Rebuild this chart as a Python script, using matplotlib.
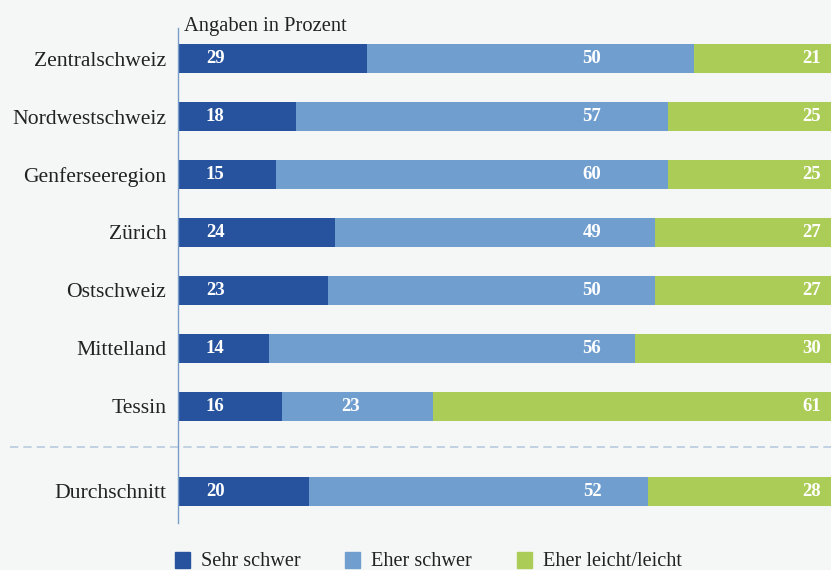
import matplotlib.pyplot as plt
from matplotlib.patches import Rectangle

# Daten
regionen = ['Zentralschweiz', 'Nordwestschweiz', 'Genferseeregion', 'Zürich',
            'Ostschweiz', 'Mittelland', 'Tessin', 'Durchschnitt']
sehr_schwer = [29, 18, 15, 24, 23, 14, 16, 20]
eher_schwer = [50, 57, 60, 49, 50, 56, 23, 52]
eher_leicht = [21, 25, 25, 27, 27, 30, 61, 28]
serien = ['Sehr schwer', 'Eher schwer', 'Eher leicht/leicht']

farben = ['#27539e', '#6f9ecf', '#abcd58']
hintergrund = '#f5f7f6'

plt.rcParams['font.family'] = ['Liberation Serif', 'DejaVu Serif']

fig = plt.figure(figsize=(8.31, 5.70), dpi=100, facecolor=hintergrund)
ax = fig.add_axes([178 / 831, 1 - 523 / 570, 653 / 831, (523 - 28) / 570])
ax.set_facecolor(hintergrund)

# y-Positionen: 7 Regionen, dann Abstand, dann Durchschnitt
ypos = list(range(7)) + [7.46]

links = [0] * len(regionen)
for werte, farbe in zip([sehr_schwer, eher_schwer, eher_leicht], farben):
    ax.barh(ypos, werte, left=links, height=0.5, color=farbe, linewidth=0)
    links = [a + b for a, b in zip(links, werte)]

# Beschriftungen in den Balken
stil = dict(color='white', fontsize=13.5, fontweight='bold', va='center', ha='center')
for y, a, b, c in zip(ypos, sehr_schwer, eher_schwer, eher_leicht):
    ax.text(5.7, y, str(a), **stil)
    xb = 63.4 if a + b > 50 else a + 10.5
    ax.text(xb, y, str(b), **stil)
    ax.text(97.0, y, str(c), **stil)

ax.set_xlim(0, 100)
ax.set_ylim(8.009, -0.526)
ax.set_yticks(ypos)
ax.set_yticklabels(regionen, fontsize=15.6, color='#222222')
ax.tick_params(axis='y', length=0, pad=8.5)
ax.set_xticks([])
for s in ['top', 'right', 'bottom']:
    ax.spines[s].set_visible(False)
ax.spines['left'].set_color('#7a9cc8')
ax.spines['left'].set_linewidth(1)

# gestrichelte Trennlinie
ax.axhline(6.70, xmin=(10 - 178) / 653, xmax=1, color='#b9cbe0', lw=1.2,
           ls=(0, (5, 3)), clip_on=False)

ax.text(0.009, 0.993, 'Angaben in Prozent', transform=ax.transAxes,
        fontsize=14.8, color='#222222', ha='left', va='baseline')

# Legende
for x0, label, farbe in zip([175, 345, 517], serien, farben):
    fig.patches.append(Rectangle((x0 / 831, 1 - 568 / 570), 15 / 831, 16 / 570,
                                 transform=fig.transFigure, color=farbe))
    fig.text((x0 + 26) / 831, 1 - 561 / 570, label, fontsize=14.6,
             color='#222222', ha='left', va='center')

fig.savefig('out.png', dpi=100, facecolor=hintergrund)
